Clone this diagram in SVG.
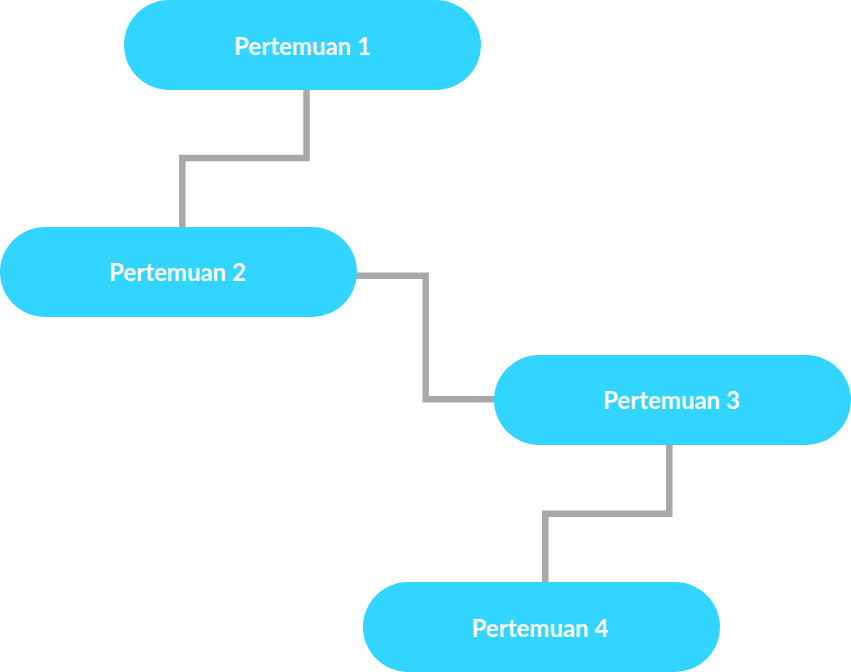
<svg xmlns="http://www.w3.org/2000/svg" width="851" height="672" viewBox="0 0 851 672">
<style>
.node rect{fill:#32d5ff}
.node text{fill:#ffffff;font-family:"Lato","Noto Sans",sans-serif;font-weight:700;font-size:24px;text-anchor:middle}
.conn path{fill:none;stroke:#a8a8a8;stroke-width:6.5}
</style>
<rect width="851" height="672" fill="#ffffff"/>
<g id="connectors" class="conn">
<path d="M306.5 88 V158 H182.3 V229"/>
<path d="M355 275.7 H425.7 V399.3 H496"/>
<path d="M669.3 443 V513.7 H545.3 V584"/>
</g>
<g id="n1" class="node"><rect x="124" y="0" width="357" height="90" rx="45"/><text x="302.5" y="54.5">Pertemuan 1</text></g>
<g id="n2" class="node"><rect x="0" y="227" width="357" height="90" rx="45"/><text x="177.5" y="281">Pertemuan 2</text></g>
<g id="n3" class="node"><rect x="494" y="355" width="357" height="90" rx="45"/><text x="671.5" y="409">Pertemuan 3</text></g>
<g id="n4" class="node"><rect x="363" y="582" width="357" height="90" rx="45"/><text x="540" y="636.5">Pertemuan 4</text></g>
</svg>
